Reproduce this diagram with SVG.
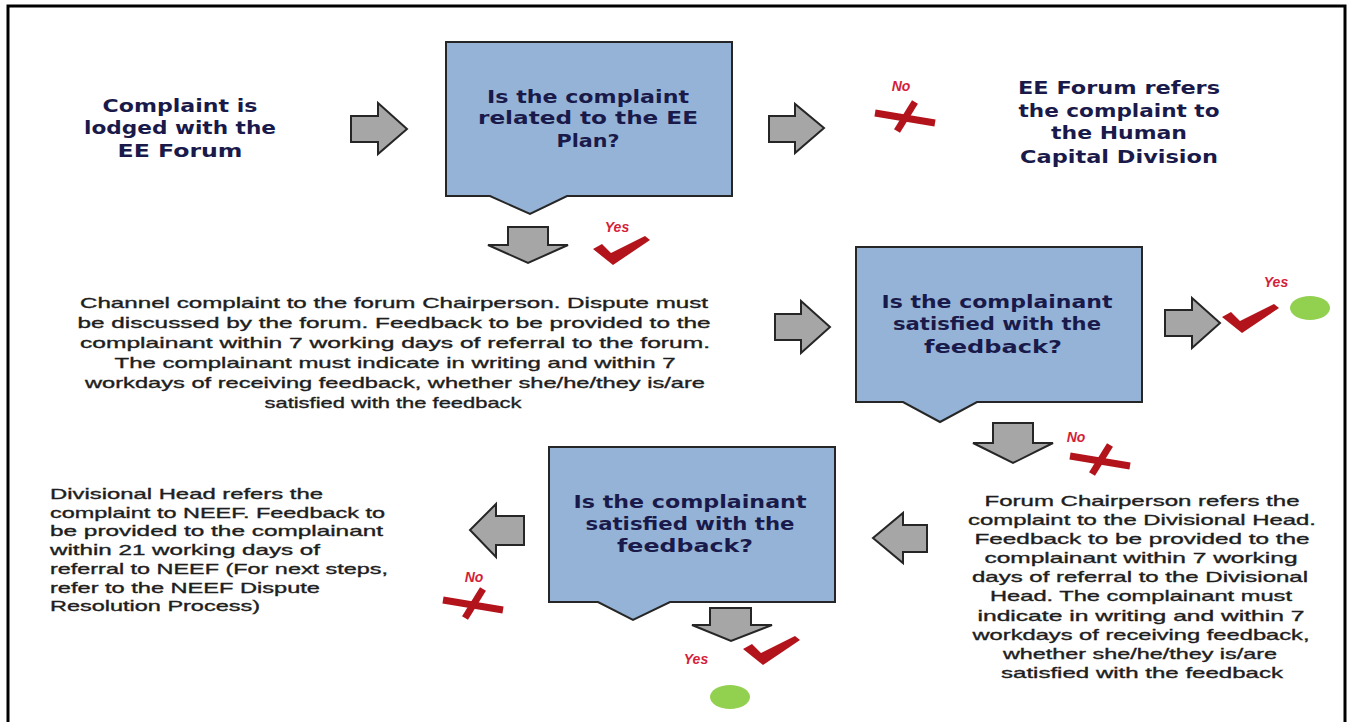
<svg xmlns="http://www.w3.org/2000/svg" width="1354" height="722" viewBox="0 0 1354 722">
<style>
.frame{fill:none;stroke:#000;stroke-width:3}
.box{fill:#95b3d7;stroke:#262626;stroke-width:2;stroke-linejoin:miter}
.arr{fill:#a6a6a6;stroke:#262626;stroke-width:2;stroke-linejoin:miter}
.hd{font-family:"DejaVu Sans",Verdana,sans-serif;font-weight:bold;font-size:18px;fill:#1a1a4a;text-anchor:middle}
.pc{font-family:"Liberation Sans",Arial,sans-serif;font-size:15px;fill:#1e1e1e;stroke:#1e1e1e;stroke-width:0.35;text-anchor:middle}
.pl{font-family:"Liberation Sans",Arial,sans-serif;font-size:15px;fill:#1e1e1e;stroke:#1e1e1e;stroke-width:0.35;text-anchor:start}
.lbl{font-family:"Liberation Sans",Arial,sans-serif;font-weight:bold;font-style:italic;font-size:14px;fill:#d41e3a;text-anchor:middle}
.x{stroke:#b3141c;stroke-width:7;stroke-linecap:butt}
.chk{fill:#b3141c}
.dot{fill:#92d050}
</style>
<defs>
<g id="cross"><line class="x" x1="0" y1="11" x2="60" y2="21"/><line class="x" x1="40" y1="0" x2="22" y2="29"/></g>
<path id="tick" class="chk" d="M0,12 L9,7 L18,16 L52,-1 L57,3 L20,28 Z"/>
</defs>
<rect class="frame" x="8" y="6" width="1337" height="800"/>

<g id="connectors">
<path class="arr" d="M351,116 H378 V103 L407,129 L378,154 V142 H351 Z"/>
<path class="arr" d="M769,116 H795 V104 L824,128 L795,153 V142 H769 Z"/>
<path class="arr" d="M508,227 H548 V245 H568 L528,263 L488,245 H508 Z"/>
<path class="arr" d="M775,314 H801 V301 L830,327 L801,353 V340 H775 Z"/>
<path class="arr" d="M1165,310 H1192 V298 L1220,323 L1192,348 V336 H1165 Z"/>
<path class="arr" d="M993,423 H1033 V443 H1053 L1013,463 L973,443 H993 Z"/>
<path class="arr" d="M927,525 H903 V513 L873,538 L903,563 V552 H927 Z"/>
<path class="arr" d="M524,516 H496 V504 L470,530 L496,557 V545 H524 Z"/>
<path class="arr" d="M710,608 H751 V625 H772 L731,641 L692,625 H710 Z"/>
</g>

<g id="start">
<text class="hd" x="180" y="112" textLength="155" lengthAdjust="spacingAndGlyphs">Complaint is</text>
<text class="hd" x="180" y="134" textLength="192" lengthAdjust="spacingAndGlyphs">lodged with the</text>
<text class="hd" x="180" y="157" textLength="125" lengthAdjust="spacingAndGlyphs">EE Forum</text>
</g>

<g id="decision1">
<path class="box" d="M446,42 H732 V196 H567 L530,214 L490,196 H446 Z"/>
<text class="hd" x="588" y="103" textLength="202" lengthAdjust="spacingAndGlyphs">Is the complaint</text>
<text class="hd" x="588" y="124" textLength="220" lengthAdjust="spacingAndGlyphs">related to the EE</text>
<text class="hd" x="588" y="147" textLength="63" lengthAdjust="spacingAndGlyphs">Plan?</text>
</g>

<g id="no1">
<text class="lbl" x="901" y="91">No</text>
<use href="#cross" x="875" y="102"/>
</g>

<g id="hcd">
<text class="hd" x="1119" y="94" textLength="202" lengthAdjust="spacingAndGlyphs">EE Forum refers</text>
<text class="hd" x="1119" y="117" textLength="201" lengthAdjust="spacingAndGlyphs">the complaint to</text>
<text class="hd" x="1119" y="139" textLength="136" lengthAdjust="spacingAndGlyphs">the Human</text>
<text class="hd" x="1119" y="163" textLength="198" lengthAdjust="spacingAndGlyphs">Capital Division</text>
</g>

<g id="yes1">
<text class="lbl" x="617" y="232">Yes</text>
<use href="#tick" x="593" y="237"/>
</g>

<g id="channel">
<text class="pc" x="394" y="308" textLength="628" lengthAdjust="spacingAndGlyphs">Channel complaint to the forum Chairperson.  Dispute must</text>
<text class="pc" x="394" y="328" textLength="633" lengthAdjust="spacingAndGlyphs">be discussed  by the forum. Feedback to be  provided to the</text>
<text class="pc" x="395" y="348" textLength="630" lengthAdjust="spacingAndGlyphs">complainant within 7 working days of referral to the forum.</text>
<text class="pc" x="395" y="368" textLength="561" lengthAdjust="spacingAndGlyphs">The complainant must indicate in writing and within 7</text>
<text class="pc" x="395" y="388" textLength="620" lengthAdjust="spacingAndGlyphs">workdays of receiving  feedback, whether she/he/they  is/are</text>
<text class="pc" x="393" y="408" textLength="257" lengthAdjust="spacingAndGlyphs">satisfied  with the feedback</text>
</g>

<g id="decision2">
<path class="box" d="M856,247 H1142 V402 H977 L940,422 L903,402 H856 Z"/>
<text class="hd" x="997" y="308" textLength="231" lengthAdjust="spacingAndGlyphs">Is the complainant</text>
<text class="hd" x="997" y="330" textLength="208" lengthAdjust="spacingAndGlyphs">satisfied with the</text>
<text class="hd" x="993" y="353" textLength="138" lengthAdjust="spacingAndGlyphs">feedback?</text>
</g>

<g id="yes2">
<text class="lbl" x="1276" y="287">Yes</text>
<use href="#tick" x="1222" y="305"/>
<ellipse class="dot" cx="1310" cy="308" rx="20" ry="12"/>
</g>

<g id="no2">
<text class="lbl" x="1076" y="442">No</text>
<use href="#cross" x="1070" y="445"/>
</g>

<g id="chair">
<text class="pc" x="1142" y="506" textLength="315" lengthAdjust="spacingAndGlyphs">Forum Chairperson  refers the</text>
<text class="pc" x="1142" y="525" textLength="348" lengthAdjust="spacingAndGlyphs">complaint to the Divisional  Head.</text>
<text class="pc" x="1142" y="544" textLength="335" lengthAdjust="spacingAndGlyphs">Feedback  to be  provided to the</text>
<text class="pc" x="1141" y="563" textLength="313" lengthAdjust="spacingAndGlyphs">complainant within 7 working</text>
<text class="pc" x="1140" y="582" textLength="336" lengthAdjust="spacingAndGlyphs">days of referral  to the Divisional</text>
<text class="pc" x="1141" y="601" textLength="302" lengthAdjust="spacingAndGlyphs">Head. The complainant must</text>
<text class="pc" x="1141" y="621" textLength="327" lengthAdjust="spacingAndGlyphs">indicate in writing and within 7</text>
<text class="pc" x="1141" y="640" textLength="337" lengthAdjust="spacingAndGlyphs">workdays of receiving  feedback,</text>
<text class="pc" x="1140" y="659" textLength="274" lengthAdjust="spacingAndGlyphs">whether she/he/they  is/are</text>
<text class="pc" x="1142" y="678" textLength="282" lengthAdjust="spacingAndGlyphs">satisfied  with the feedback</text>
</g>

<g id="decision3">
<path class="box" d="M549,447 H835 V602 H670 L633,620 L598,602 H549 Z"/>
<text class="hd" x="690" y="508" textLength="233" lengthAdjust="spacingAndGlyphs">Is the complainant</text>
<text class="hd" x="690" y="530" textLength="209" lengthAdjust="spacingAndGlyphs">satisfied with the</text>
<text class="hd" x="685" y="552" textLength="136" lengthAdjust="spacingAndGlyphs">feedback?</text>
</g>

<g id="no3">
<text class="lbl" x="474" y="582">No</text>
<use href="#cross" x="443" y="589"/>
</g>

<g id="neef">
<text class="pl" x="50" y="499" textLength="273" lengthAdjust="spacingAndGlyphs">Divisional  Head  refers the</text>
<text class="pl" x="50" y="518" textLength="335" lengthAdjust="spacingAndGlyphs">complaint to NEEF. Feedback  to</text>
<text class="pl" x="50" y="536" textLength="333" lengthAdjust="spacingAndGlyphs">be  provided  to the complainant</text>
<text class="pl" x="50" y="555" textLength="270" lengthAdjust="spacingAndGlyphs">within 21  working days of</text>
<text class="pl" x="50" y="574" textLength="338" lengthAdjust="spacingAndGlyphs">referral  to NEEF (For next  steps,</text>
<text class="pl" x="50" y="593" textLength="270" lengthAdjust="spacingAndGlyphs">refer to the NEEF  Dispute</text>
<text class="pl" x="50" y="611" textLength="210" lengthAdjust="spacingAndGlyphs">Resolution  Process)</text>
</g>

<g id="yes3">
<text class="lbl" x="696" y="664">Yes</text>
<use href="#tick" x="743" y="637"/>
<ellipse class="dot" cx="730" cy="697" rx="20" ry="12"/>
</g>
</svg>
